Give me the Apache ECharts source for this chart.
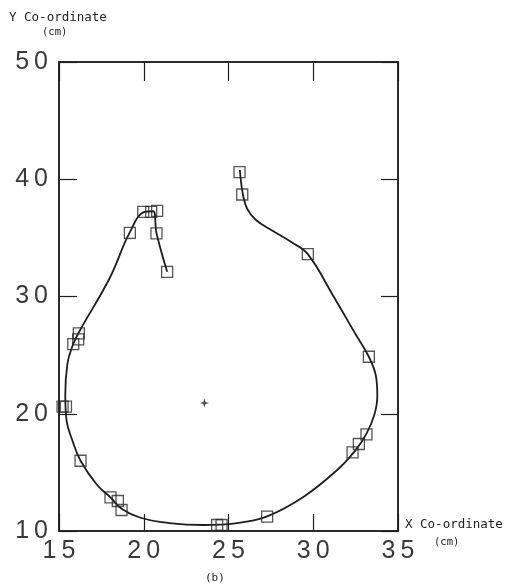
<!DOCTYPE html>
<html>
<head>
<meta charset="utf-8">
<script src="https://cdn.jsdelivr.net/npm/echarts@6/dist/echarts.min.js"></script>
<style>
  html, body { margin: 0; padding: 0; background: #fff; }
  #chart { width: 506px; height: 587px; }
</style>
</head>
<body>
<div id="chart"></div>
<script>
// Measured positions (cm) of the tracked points
const obsX = [21.38, 20.75, 20.79, 20.44, 19.97, 19.18, 16.17, 16.13, 15.84, 15.41, 15.21, 16.27,
              18.04, 18.47, 18.69, 24.33, 24.59, 27.28, 32.32, 32.69, 33.14, 33.28, 29.68, 25.81, 25.65];
const obsY = [32.10, 35.38, 37.31, 37.22, 37.22, 35.43, 26.85, 26.34, 25.94, 20.61, 20.61, 15.99,
              12.87, 12.56, 11.79, 10.51, 10.51, 11.22, 16.71, 17.42, 18.24, 24.86, 33.61, 38.70, 40.61];

// Fitted trajectory through the points
const pathX = [21.38, 20.75, 20.55, 20.05, 19.16, 18.00, 16.15, 15.80, 15.50, 15.37, 15.45,
               15.78, 16.27, 17.25, 18.04, 18.69, 19.81, 21.50, 23.54, 24.53, 25.71, 27.28, 29.44,
               31.41, 32.50, 33.14, 33.60, 33.78, 33.70, 33.28, 32.49, 31.21, 29.68, 28.70, 27.60,
               26.60, 26.10, 25.85, 25.67];
const pathY = [32.12, 35.42, 37.27, 37.22, 35.42, 31.60, 26.89, 25.80, 24.30, 21.60, 19.40,
               17.76, 15.99, 13.92, 12.87, 11.90, 11.13, 10.68, 10.51, 10.55, 10.71, 11.25, 12.93,
               15.20, 16.90, 18.30, 19.90, 21.50, 23.20, 24.86, 26.80, 29.98, 33.61, 34.65, 35.60,
               36.55, 37.50, 38.70, 40.79];

// Centre marker
const centreX = [23.58];
const centreY = [20.92];

// Axis ranges and ticks
const xTicks = { min: 15, max: 35, interval: 5 };
const yTicks = { min: 10, max: 50, interval: 10 };

const zip = (a, b) => a.map((v, i) => [v, b[i]]);
const spaced = v => String(v).split('').join('\u2009');

const ink = '#1e1e1e';
const tickLabel = { fontFamily: 'Liberation Sans', fontSize: 25, color: '#3a3a3a' };
const monoText = { fontFamily: 'DejaVu Sans Mono', fill: '#222' };

const chart = echarts.init(document.getElementById('chart'), null, { renderer: 'canvas' });

chart.setOption({
  animation: false,
  backgroundColor: '#fff',
  grid: { left: 59, right: 108, top: 62, bottom: 56, show: true, borderColor: ink, borderWidth: 1.5, backgroundColor: 'transparent' },
  xAxis: [
    {
      type: 'value', min: xTicks.min, max: xTicks.max, interval: xTicks.interval, position: 'bottom',
      axisLine: { show: true, onZero: false, lineStyle: { color: ink, width: 1.5 } },
      axisTick: { show: true, inside: true, length: 17, lineStyle: { color: ink, width: 1.2 } },
      axisLabel: Object.assign({ margin: 8, formatter: spaced }, tickLabel),
      splitLine: { show: false }
    },
    {
      type: 'value', min: xTicks.min, max: xTicks.max, interval: xTicks.interval, position: 'top',
      axisLine: { show: true, onZero: false, lineStyle: { color: ink, width: 1.5 } },
      axisTick: { show: true, inside: true, length: 19, lineStyle: { color: ink, width: 1.2 } },
      axisLabel: { show: false },
      splitLine: { show: false }
    }
  ],
  yAxis: [
    {
      type: 'value', min: yTicks.min, max: yTicks.max, interval: yTicks.interval, position: 'left',
      axisLine: { show: true, onZero: false, lineStyle: { color: ink, width: 1.5 } },
      axisTick: { show: true, inside: true, length: 18, lineStyle: { color: ink, width: 1.2 } },
      axisLabel: Object.assign({ margin: 11, formatter: spaced }, tickLabel),
      splitLine: { show: false }
    },
    {
      type: 'value', min: yTicks.min, max: yTicks.max, interval: yTicks.interval, position: 'right',
      axisLine: { show: true, onZero: false, lineStyle: { color: ink, width: 1.5 } },
      axisTick: { show: true, inside: true, length: 17, lineStyle: { color: ink, width: 1.2 } },
      axisLabel: { show: false },
      splitLine: { show: false }
    }
  ],
  series: [
    {
      type: 'line', name: 'path', data: zip(pathX, pathY), smooth: 0.4,
      showSymbol: false, symbol: 'none',
      lineStyle: { color: ink, width: 1.8 }, z: 3
    },
    {
      type: 'scatter', name: 'points', data: zip(obsX, obsY),
      symbol: 'rect', symbolSize: 11,
      itemStyle: { color: 'transparent', borderColor: '#2a2a2a', borderWidth: 1.3 }, z: 4
    },
    {
      type: 'scatter', name: 'centre', data: zip(centreX, centreY),
      symbol: 'path://M0,-5 L1.2,-1.2 L5,0 L1.2,1.2 L0,5 L-1.2,1.2 L-5,0 L-1.2,-1.2 Z',
      symbolSize: 9, itemStyle: { color: ink }, z: 5
    }
  ],
  graphic: [
    { type: 'text', left: 9, top: 11, style: Object.assign({ text: 'Y Co-ordinate', fontSize: 12.5 }, monoText) },
    { type: 'text', left: 42, top: 27, style: Object.assign({ text: '(cm)', fontSize: 10.5 }, monoText) },
    { type: 'text', left: 405, top: 518, style: Object.assign({ text: 'X Co-ordinate', fontSize: 12.5 }, monoText) },
    { type: 'text', left: 434, top: 537, style: Object.assign({ text: '(cm)', fontSize: 10.5 }, monoText) },
    { type: 'text', left: 205, top: 573, style: Object.assign({ text: '(b)', fontSize: 11 }, monoText) }
  ]
});
</script>
</body>
</html>
